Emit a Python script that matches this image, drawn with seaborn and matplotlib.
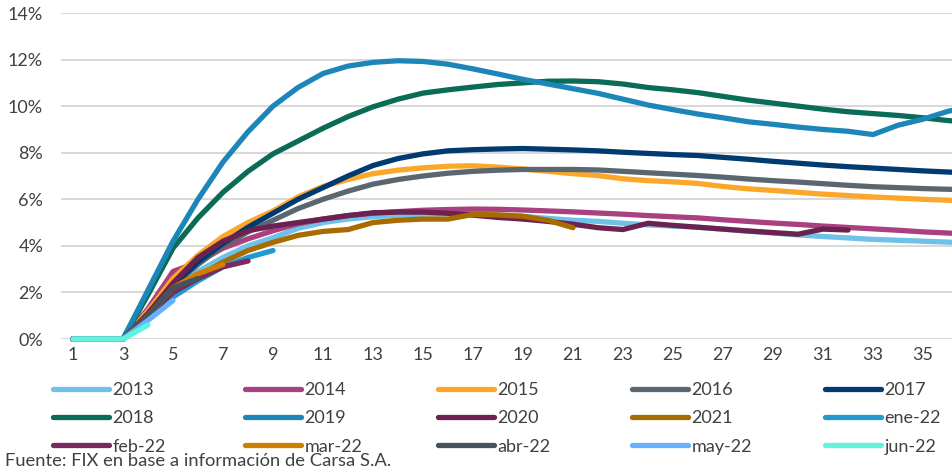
import matplotlib.pyplot as plt
import seaborn as sns
import pandas as pd
from matplotlib.lines import Line2D

# cohortes y colores (orden de la leyenda)
labels = ['2013', '2014', '2015', '2016', '2017',
          '2018', '2019', '2020', '2021', 'ene-22',
          'feb-22', 'mar-22', 'abr-22', 'may-22', 'jun-22']
colors = ['#6EC1E8', '#A9407F', '#FBA82A', '#5B6770', '#003A70',
          '#0A6B57', '#1D86B8', '#6B2250', '#A86B00', '#2199D3',
          '#7A2A5F', '#D07E00', '#47525B', '#66B2FF', '#5FF5DD']

# mora acumulada (%) por mes desde originacion
v2013 = [0, 0, 0, 1.0, 2.2, 2.9, 3.5, 4.0, 4.35, 4.75, 5.0, 5.15, 5.25, 5.32, 5.36, 5.38, 5.38, 5.33,
         5.27, 5.18, 5.1, 5.05, 4.97, 4.9, 4.85, 4.8, 4.72, 4.63, 4.55, 4.47, 4.4, 4.34, 4.28, 4.24, 4.2, 4.16, 4.12]
v2014 = [0, 0, 0, 1.3, 2.9, 3.3, 3.9, 4.3, 4.65, 4.95, 5.15, 5.3, 5.4, 5.47, 5.53, 5.56, 5.58, 5.57,
         5.54, 5.5, 5.46, 5.41, 5.36, 5.3, 5.25, 5.2, 5.12, 5.05, 4.98, 4.92, 4.85, 4.79, 4.73, 4.67, 4.6, 4.55, 4.5]
v2015 = [0, 0, 0, 1.2, 2.6, 3.6, 4.4, 5.0, 5.5, 6.1, 6.55, 6.85, 7.1, 7.25, 7.35, 7.42, 7.44, 7.38,
         7.3, 7.2, 7.1, 7.02, 6.88, 6.8, 6.75, 6.68, 6.55, 6.45, 6.38, 6.3, 6.22, 6.16, 6.1, 6.05, 6.0, 5.96, 5.92]
v2016 = [0, 0, 0, 1.0, 2.3, 3.2, 4.0, 4.6, 5.1, 5.6, 6.0, 6.35, 6.65, 6.85, 7.0, 7.12, 7.2, 7.25,
         7.28, 7.28, 7.28, 7.26, 7.2, 7.14, 7.08, 7.02, 6.95, 6.87, 6.8, 6.74, 6.67, 6.6, 6.54, 6.5, 6.46, 6.43, 6.4]
v2017 = [0, 0, 0, 1.0, 2.3, 3.3, 4.1, 4.8, 5.4, 6.0, 6.5, 7.0, 7.45, 7.75, 7.95, 8.08, 8.13, 8.16,
         8.18, 8.15, 8.12, 8.08, 8.02, 7.97, 7.92, 7.88, 7.8, 7.72, 7.63, 7.55, 7.47, 7.4, 7.34, 7.28, 7.22, 7.17, 7.13]
v2018 = [0, 0, 0, 1.9, 3.9, 5.2, 6.3, 7.2, 7.95, 8.5, 9.05, 9.55, 9.97, 10.3, 10.56, 10.7, 10.82, 10.93,
         11.0, 11.07, 11.08, 11.05, 10.95, 10.8, 10.7, 10.58, 10.42, 10.26, 10.13, 10.0, 9.87, 9.76, 9.68, 9.6, 9.5, 9.38, 9.3]
v2019 = [0, 0, 0, 2.1, 4.2, 6.0, 7.6, 8.9, 10.0, 10.8, 11.4, 11.72, 11.88, 11.95, 11.92, 11.8, 11.6, 11.38,
         11.15, 10.95, 10.75, 10.55, 10.3, 10.05, 9.85, 9.66, 9.5, 9.33, 9.22, 9.1, 9.0, 8.92, 8.78, 9.18, 9.44, 9.78, 10.0]
v2020 = [0, 0, 0, 1.1, 2.4, 3.5, 4.2, 4.65, 4.85, 5.0, 5.15, 5.3, 5.42, 5.45, 5.45, 5.4, 5.32, 5.22,
         5.15, 5.05, 4.93, 4.78, 4.7, 4.97, 4.88, 4.8, 4.72, 4.64, 4.57, 4.5, 4.72, 4.68]
v2021 = [0, 0, 0, 0.9, 1.9, 2.7, 3.3, 3.8, 4.15, 4.45, 4.62, 4.7, 5.0, 5.1, 5.15, 5.15, 5.35, 5.33,
         5.27, 5.1, 4.78]
ene22 = [0, 0, 0, 0.9, 1.8, 2.5, 3.1, 3.5, 3.8]
feb22 = [0, 0, 0, 1.0, 2.0, 2.6, 3.1, 3.35]
mar22 = [0, 0, 0, 1.0, 2.2, 2.8, 3.2]
abr22 = [0, 0, 0, 1.0, 2.2, 2.6]
may22 = [0, 0, 0, 0.8, 1.65]
jun22 = [0, 0, 0, 0.6]

series = [v2013, v2014, v2015, v2016, v2017, v2018, v2019, v2020, v2021,
          ene22, feb22, mar22, abr22, may22, jun22]

rows = []
for lab, vals in zip(labels, series):
    for i, v in enumerate(vals):
        rows.append((lab, i + 1, v))
df = pd.DataFrame(rows, columns=['cohorte', 'mes', 'mora'])

sns.set_theme(style='white')
plt.rcParams['font.family'] = ['Lato', 'DejaVu Sans']
txt = '#404040'
fs = 13

fig = plt.figure(figsize=(9.52, 4.73), dpi=100)
ax = fig.add_axes([60.5 / 952, 1 - 339 / 473, 1 - 60.5 / 952, 326 / 473])

sns.lineplot(data=df, x='mes', y='mora', hue='cohorte', hue_order=labels,
             palette=dict(zip(labels, colors)), linewidth=3.8, legend=False,
             ax=ax, solid_capstyle='round', solid_joinstyle='round')
for ln in ax.lines:
    ln.set_clip_on(False)

ax.set_xlim(0.5, 36.16)
ax.set_ylim(0, 14)
ax.set_yticks(range(0, 15, 2))
ax.set_yticklabels([f'{t}%' for t in range(0, 15, 2)])
ax.set_xticks(range(1, 36, 2))
ax.grid(axis='y', color='#D9D9D9', lw=1.5)
ax.grid(axis='x', visible=False)
ax.set_axisbelow(True)
sns.despine(ax=ax, left=True, bottom=True)
ax.tick_params(axis='both', length=0, labelsize=fs, colors=txt)
ax.tick_params(axis='y', pad=12.5)
ax.tick_params(axis='x', pad=6)
ax.set_xlabel('')
ax.set_ylabel('')

# leyenda: 5 columnas x 3 filas, orden por filas
col_x = [53, 245, 438, 632, 825]
for c in range(5):
    idx = [r * 5 + c for r in range(3)]
    handles = [Line2D([], [], color=colors[i], lw=3.8, solid_capstyle='round') for i in idx]
    leg = fig.legend(handles, [labels[i] for i in idx], loc='upper left',
                     bbox_to_anchor=(col_x[c] / 952, 1 - 382 / 473), frameon=False,
                     fontsize=fs, handlelength=3.1, handletextpad=0.2,
                     labelspacing=0.68, borderpad=0, borderaxespad=0)
    for t in leg.get_texts():
        t.set_color(txt)

fig.text(5 / 952, 1 - 461 / 473, 'Fuente: FIX en base a información de Carsa S.A.',
         fontsize=13.2, color=txt, va='center', ha='left')

fig.savefig('out.png', dpi=100)
